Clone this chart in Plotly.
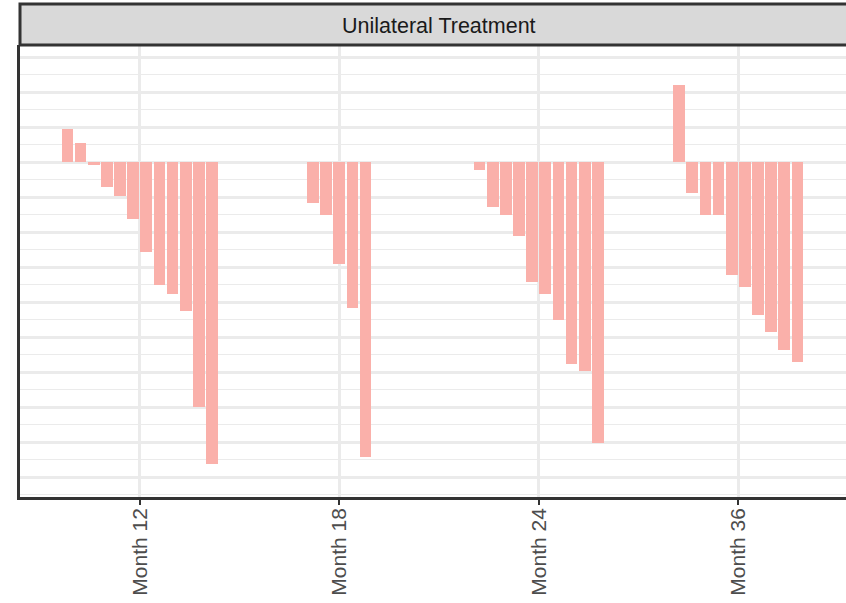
import plotly.graph_objects as go

# waterfall values per visit (change from baseline)
months = ["Month 12", "Month 18", "Month 24", "Month 36"]
month12 = [18.9, 10.9, -1.7, -13.9, -19.3, -32.6, -51.4, -69.9, -75.3, -84.8, -139.7, -172.4]
month18 = [-23.1, -29.9, -57.9, -83.4, -168.4]
month24 = [-4.4, -25.7, -29.9, -41.9, -68.6, -75.3, -90.1, -115.4, -119.4, -160.2]
month36 = [44.2, -17.7, -29.9, -29.9, -64.6, -71.3, -87.4, -96.8, -107.4, -114.1]
panel_title = "Unilateral Treatment"

groups = [month12, month18, month24, month36]
n_max = max(len(g) for g in groups)
pitch = 0.79 / n_max  # dodge, preserve single width

xs, ys = [], []
for i, vals in enumerate(groups):
    n = len(vals)
    for j, v in enumerate(vals):
        xs.append(i + (j - (n - 1) / 2) * pitch)
        ys.append(v)

fig = go.Figure()
fig.add_trace(go.Bar(
    x=xs,
    y=ys,
    width=pitch * 0.89,
    marker=dict(color="#FAB0AA", line=dict(width=0)),
    showlegend=False,
))

font = "Liberation Sans, Arial, sans-serif"
fig.update_layout(
    width=846,
    height=603,
    margin=dict(l=20, r=0, t=45, b=106),
    paper_bgcolor="white",
    plot_bgcolor="white",
    font=dict(family=font),
    bargap=0,
)
fig.update_xaxes(
    range=[-0.6, 3.54],
    tickmode="array",
    tickvals=list(range(len(months))),
    ticktext=months,
    tickangle=-90,
    tickfont=dict(size=21, color="#4D4D4D", family=font),
    ticklabelstandoff=-5,
    ticks="outside",
    ticklen=5,
    tickwidth=2,
    tickcolor="#333333",
    showgrid=True,
    gridcolor="#EBEBEB",
    gridwidth=3,
    zeroline=False,
    showline=True,
    linecolor="#333333",
    linewidth=2.5,
    mirror=False,
)
fig.update_yaxes(
    range=[-191.3, 67.0],
    tick0=0,
    dtick=20,
    showticklabels=False,
    ticks="",
    showgrid=True,
    gridcolor="#EBEBEB",
    gridwidth=2.7,
    minor=dict(dtick=10, tick0=0, showgrid=True, gridcolor="#EBEBEB", gridwidth=1.3),
    zeroline=False,
    showline=True,
    linecolor="#333333",
    linewidth=2.5,
    mirror=False,
)

# facet strip
strip_top = 1 + 41 / 452
fig.add_shape(
    type="rect", xref="paper", yref="paper",
    x0=0, x1=1.05, y0=1, y1=strip_top,
    fillcolor="#D9D9D9",
    line=dict(color="#333333", width=3),
    layer="above",
)
fig.add_annotation(
    text=panel_title, xref="x", yref="paper",
    x=1.5, y=(1 + strip_top) / 2 - 0.003,
    yanchor="middle",
    showarrow=False,
    font=dict(size=21.5, color="#1A1A1A", family=font),
)

fig.write_html(
    "out.html",
    config={"displayModeBar": False},
    post_script="document.body.style.margin='0';document.body.style.overflow='hidden';",
)
